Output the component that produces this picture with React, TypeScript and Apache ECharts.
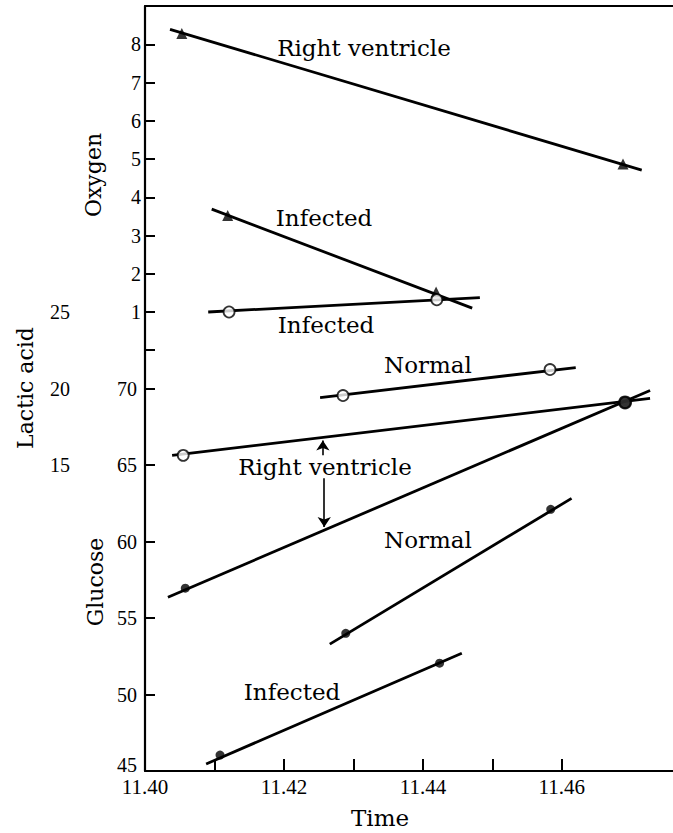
import React, { useEffect, useRef } from "react";
import * as echarts from "echarts";

// ---------- data ----------
// Oxygen (triangles)
const oxyRightVentriclePts = [[11.4053, 8.28], [11.4688, 4.87]];
const oxyRightVentricleLine = [[11.4036, 8.39], [11.4715, 4.71]];
const oxyInfectedPts = [[11.4119, 3.52], [11.4419, 1.52]];
const oxyInfectedLine = [[11.4096, 3.69], [11.4471, 1.1]];

// Lactic acid (open circles)
const lacInfectedPts = [[11.4121, 25.0], [11.442, 25.8]];
const lacInfectedLine = [[11.4091, 25.0], [11.4482, 25.94]];
const lacNormalPts = [[11.4285, 19.54], [11.4583, 21.24]];
const lacNormalLine = [[11.4252, 19.41], [11.462, 21.37]];
const lacRightVentriclePts = [[11.4055, 15.63], [11.4691, 19.09]];
const lacRightVentricleLine = [[11.4039, 15.63], [11.4727, 19.35]];

// Glucose (filled dots)
const gluRightVentriclePts = [[11.4058, 56.95], [11.4691, 69.09]];
const gluRightVentricleLine = [[11.4033, 56.36], [11.4727, 69.87]];
const gluNormalPts = [[11.4289, 54.0], [11.4584, 62.1]];
const gluNormalLine = [[11.4266, 53.29], [11.4614, 62.82]];
const gluInfectedPts = [[11.4108, 46.04], [11.4424, 52.05]];
const gluInfectedLine = [[11.4088, 45.46], [11.4456, 52.7]];

// Arrows from the "Right ventricle" label (glucose scale)
const arrowUp = [[11.4256, 65.63], [11.4256, 66.6]];
const arrowDown = [[11.4258, 64.13], [11.4258, 60.95]];

// ticks
const xTicks = [11.4, 11.41, 11.42, 11.43, 11.44, 11.45, 11.46];
const xLabels = [11.4, 11.42, 11.44, 11.46];
const glucoseTicks = [45, 50, 55, 60, 65, 70];
const oxygenTicks = [0, 1, 2, 3, 4, 5, 6, 7, 8];
const oxygenLabels = [1, 2, 3, 4, 5, 6, 7, 8];
const lacticLabels = [15, 20, 25];

const SERIF = "'DejaVu Serif', serif";
const TICKFONT = "'Liberation Serif', serif";

export default function App() {
  const ref = useRef<HTMLDivElement>(null);
  useEffect(() => {
    if (!ref.current) return;
    const chart = echarts.init(ref.current, null, { renderer: "svg" });
    const lineStyle = { color: "#000", width: 2.8 };
    const mkLine = (data: number[][], yAxisIndex: number) => ({
      type: "line",
      data,
      yAxisIndex,
      symbol: "none",
      lineStyle,
      z: 2,
      silent: true,
    });
    const tri = (data: number[][]) => ({
      type: "scatter",
      data,
      yAxisIndex: 1,
      symbol: "triangle",
      symbolSize: 11,
      itemStyle: { color: "#000" },
      z: 4,
    });
    const openC = (data: number[][]) => ({
      type: "scatter",
      data,
      yAxisIndex: 2,
      symbol: "circle",
      symbolSize: 11,
      itemStyle: { color: "#fff", borderColor: "#000", borderWidth: 1.8 },
      z: 4,
    });
    const dot = (data: any[]) => ({
      type: "scatter",
      data,
      yAxisIndex: 0,
      symbol: "circle",
      symbolSize: 9,
      itemStyle: { color: "#000" },
      z: 5,
    });
    const annot = (text: string, x: number, y: number) => ({
      type: "text",
      x,
      y,
      style: {
        text,
        fill: "#000",
        font: `23px ${SERIF}`,
        align: "center",
        verticalAlign: "middle",
      },
    });
    const vname = (text: string, x: number, y: number) => ({
      type: "text",
      x,
      y,
      rotation: Math.PI / 2,
      style: {
        text,
        fill: "#000",
        font: `22px ${SERIF}`,
        align: "center",
        verticalAlign: "middle",
      },
    });

    chart.setOption({
      animation: false,
      grid: { left: 145, right: 0, top: 6, bottom: 62 },
      xAxis: [
        {
          type: "value",
          min: 11.4,
          max: 11.476,
          interval: 0.01,
          position: "bottom",
          axisLine: { show: true, onZero: false, lineStyle: { color: "#000", width: 2 } },
          axisTick: {
            show: true,
            inside: true,
            length: 12,
            customValues: xTicks,
            lineStyle: { color: "#000", width: 2 },
          },
          axisLabel: {
            customValues: xLabels,
            formatter: (v: number) => v.toFixed(2),
            color: "#000",
            fontFamily: TICKFONT,
            fontSize: 21,
            margin: 5,
          },
          splitLine: { show: false },
        },
        {
          type: "value",
          min: 11.4,
          max: 11.476,
          position: "top",
          axisLine: { show: true, onZero: false, lineStyle: { color: "#000", width: 2 } },
          axisTick: { show: false },
          axisLabel: { show: false },
          splitLine: { show: false },
        },
      ],
      yAxis: [
        {
          type: "value",
          min: 45,
          max: 95,
          interval: 5,
          position: "left",
          axisLine: { show: true, onZero: false, lineStyle: { color: "#000", width: 2.2 } },
          axisTick: {
            show: true,
            inside: true,
            length: 10,
            customValues: glucoseTicks,
            lineStyle: { color: "#000", width: 2 },
          },
          axisLabel: {
            customValues: glucoseTicks,
            color: "#000",
            fontFamily: TICKFONT,
            fontSize: 20,
            margin: 8,
            formatter: (v: number) => (v === 45 ? `{lift|${v}}` : `${v}`),
            rich: {
              lift: {
                fontFamily: TICKFONT,
                fontSize: 20,
                color: "#000",
                padding: [0, 0, 12, 0],
              },
            },
          },
          splitLine: { show: false },
        },
        {
          type: "value",
          min: -11,
          max: 9,
          interval: 1,
          position: "left",
          offset: 0,
          axisLine: { show: false, onZero: false },
          axisTick: {
            show: true,
            inside: true,
            length: 10,
            customValues: oxygenTicks,
            lineStyle: { color: "#000", width: 2 },
          },
          axisLabel: {
            customValues: oxygenLabels,
            color: "#000",
            fontFamily: TICKFONT,
            fontSize: 20,
            margin: 4,
          },
          splitLine: { show: false },
        },
        {
          type: "value",
          min: -5,
          max: 45,
          interval: 5,
          position: "left",
          offset: 67,
          axisLine: { show: false, onZero: false },
          axisTick: { show: false },
          axisLabel: {
            customValues: lacticLabels,
            color: "#000",
            fontFamily: TICKFONT,
            fontSize: 20,
            margin: 8,
          },
          splitLine: { show: false },
        },
      ],
      series: [
        mkLine(oxyRightVentricleLine, 1),
        mkLine(oxyInfectedLine, 1),
        mkLine(lacInfectedLine, 2),
        mkLine(lacNormalLine, 2),
        mkLine(lacRightVentricleLine, 2),
        mkLine(gluRightVentricleLine, 0),
        mkLine(gluNormalLine, 0),
        mkLine(gluInfectedLine, 0),
        tri(oxyRightVentriclePts),
        tri(oxyInfectedPts),
        openC(lacInfectedPts),
        openC(lacNormalPts),
        openC(lacRightVentriclePts),
        dot([
          gluRightVentriclePts[0],
          { value: gluRightVentriclePts[1], symbolSize: 14 },
        ]),
        dot(gluNormalPts),
        dot(gluInfectedPts),
        {
          type: "line",
          data: [],
          yAxisIndex: 0,
          markLine: {
            silent: true,
            animation: false,
            symbol: ["none", "arrow"],
            symbolSize: 10,
            label: { show: false },
            lineStyle: { color: "#000", width: 1.6, type: "solid" },
            data: [
              [{ coord: arrowUp[0] }, { coord: arrowUp[1] }],
              [{ coord: arrowDown[0] }, { coord: arrowDown[1] }],
            ],
          },
        },
      ],
      graphic: [
        annot("Right ventricle", 364, 48),
        annot("Infected", 324, 218),
        annot("Infected", 326, 325),
        annot("Normal", 428, 365),
        annot("Right ventricle", 325, 467),
        annot("Normal", 428, 540),
        annot("Infected", 292, 692),
        annot("Time", 380, 818),
        vname("Oxygen", 93, 175),
        vname("Lactic acid", 25, 388),
        vname("Glucose", 95, 582),
      ],
    });
    return () => chart.dispose();
  }, []);
  return (
    <div
      ref={ref}
      style={{ position: "fixed", left: 0, top: 0, width: 673, height: 833, background: "#fff" }}
    />
  );
}
